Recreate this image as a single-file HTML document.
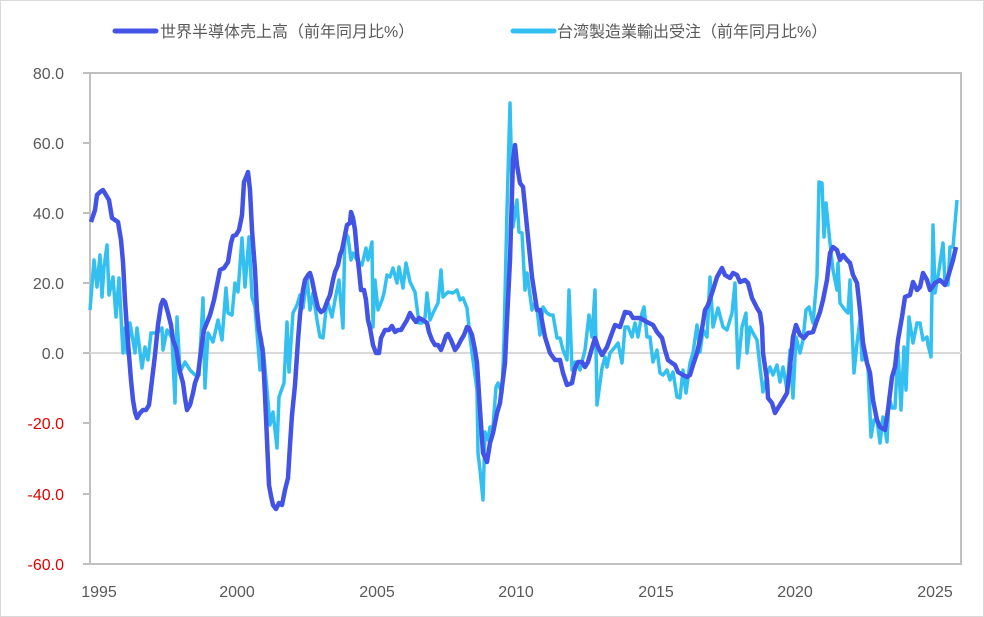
<!DOCTYPE html>
<html><head><meta charset="utf-8"><style>
html,body{margin:0;padding:0;background:#fff}
svg{display:block}
text{font-family:"Liberation Sans","Noto Sans CJK JP",sans-serif}
</style></head><body>
<svg width="984" height="617" viewBox="0 0 984 617" xmlns="http://www.w3.org/2000/svg">
<rect x="0.5" y="0.5" width="983" height="616" fill="#fff" stroke="#d9d9d9"/>
<g stroke="#bfbfbf" stroke-width="2" fill="none">
<rect x="90" y="73" width="871" height="491"/>
<line x1="83" y1="73" x2="90" y2="73"/><line x1="83" y1="143" x2="90" y2="143"/><line x1="83" y1="213" x2="90" y2="213"/><line x1="83" y1="283" x2="90" y2="283"/><line x1="83" y1="353" x2="90" y2="353"/><line x1="83" y1="423" x2="90" y2="423"/><line x1="83" y1="494" x2="90" y2="494"/><line x1="83" y1="564" x2="90" y2="564"/>
</g>
<line x1="90" y1="353" x2="961" y2="353" stroke="#d9d9d9" stroke-width="2"/>
<g font-size="16" fill="#595959" text-anchor="end">
<text x="64" y="79">80.0</text><text x="64" y="149">60.0</text><text x="64" y="219">40.0</text><text x="64" y="289">20.0</text><text x="64" y="359">0.0</text>
<text x="64" y="429" fill="#e00000">-20.0</text><text x="64" y="500" fill="#e00000">-40.0</text><text x="64" y="570" fill="#e00000">-60.0</text>
</g>
<g font-size="16" fill="#595959" text-anchor="middle">
<text x="99" y="597">1995</text><text x="237" y="597">2000</text><text x="377" y="597">2005</text><text x="516" y="597">2010</text><text x="656" y="597">2015</text><text x="795" y="597">2020</text><text x="935" y="597">2025</text>
</g>
<line x1="115" y1="31" x2="156" y2="31" stroke="#4353E5" stroke-width="5" stroke-linecap="round"/>
<text x="160" y="37" font-size="16" fill="#595959">世界半導体売上高（前年同月比%）</text>
<line x1="513" y1="31" x2="554" y2="31" stroke="#33C0F0" stroke-width="5" stroke-linecap="round"/>
<text x="557" y="37" font-size="16" fill="#595959">台湾製造業輸出受注（前年同月比%）</text>
<polyline fill="none" stroke="#33C0F0" stroke-width="3.5" stroke-linejoin="round" points="90,310 94,260 97,287 100,255 102,297 104,267 107,245 109,295 113,277 116,317 119,278 123,353 125,328 127,353 130,323 135,353 137,328 142,368 145,347 148,360 151,333 157,333 162,328 163,350 167,330 172,338 175,403 177,317 180,372 185,362 190,370 195,375 199,375 203,298 205,388 208,333 213,342 218,320 222,340 226,288 228,313 232,315 235,283 238,292 242,238 245,287 249,237 252,297 255,307 260,370 263,347 267,390 270,425 273,412 277,448 279,397 284,383 287,322 289,372 293,313 297,305 300,295 303,308 307,277 310,310 313,293 317,320 320,337 323,338 327,300 332,317 335,300 339,280 343,328 345,232 348,237 351,260 353,253 357,260 362,265 366,248 368,260 372,242 373,327 375,280 378,310 382,300 384,293 387,275 390,277 393,268 397,283 399,267 403,288 406,263 410,282 415,292 419,323 422,323 425,318 427,293 430,320 433,313 436,307 438,303 441,270 443,297 448,292 453,293 457,290 460,300 463,298 467,308 470,337 473,360 477,390 478,453 480,470 483,500 485,432 488,440 490,427 493,427 496,387 498,383 502,393 504,340 507,210 510,103 513,227 517,200 519,232 522,233 525,290 527,273 532,310 536,300 540,335 543,307 547,313 550,315 553,315 557,338 560,338 563,350 567,360 569,290 572,370 575,362 580,370 585,350 589,315 592,337 595,290 597,405 602,368 605,357 607,367 610,353 615,347 618,343 622,363 625,327 628,327 632,337 635,323 638,337 642,313 644,307 647,337 650,337 653,362 657,350 660,373 663,375 667,370 670,380 673,372 677,397 680,398 683,370 686,393 690,363 693,353 697,325 700,352 703,330 707,337 710,277 713,327 718,308 723,327 727,330 732,313 735,283 738,368 742,327 746,313 747,353 750,327 753,333 757,340 760,367 763,392 767,375 770,367 773,375 777,365 780,382 783,367 787,390 790,350 793,398 796,337 800,353 803,340 806,310 809,307 813,323 817,277 819,182 822,183 824,237 826,203 830,243 833,270 837,290 838,263 840,303 845,310 848,313 850,280 854,373 857,343 860,320 862,360 865,357 868,367 871,437 874,420 877,420 880,443 883,417 887,442 889,397 892,408 895,408 898,350 901,410 904,347 906,390 909,317 913,343 917,323 920,323 923,340 927,337 928,345 931,357 933,225 935,293 939,270 943,243 945,283 948,285 950,247 953,247 957,200"/>
<polyline fill="none" stroke="#4353E5" stroke-width="4.5" stroke-linejoin="round" points="91,222 95,210 97,195 100,192 103,190 106,195 109,200 112,218 115,220 118,222 121,240 123,262 125,300 127,330 129,355 131,380 133,400 135,412 137,418 140,413 143,410 146,410 149,405 152,380 155,355 158,325 161,305 163,300 165,302 168,313 171,325 173,340 176,348 178,360 180,372 183,383 185,398 187,410 190,405 193,393 195,383 198,375 201,350 204,330 206,325 210,315 214,300 216,290 220,270 224,268 228,262 231,243 233,236 236,235 239,230 242,215 244,182 247,175 248,172 250,190 252,230 255,270 257,310 259,330 261,340 263,355 265,395 267,440 269,485 271,496 273,505 276,509 279,503 282,505 285,490 288,478 290,445 292,415 295,385 298,340 300,315 303,290 305,280 308,275 310,273 312,280 315,295 318,308 321,312 324,310 327,302 330,295 333,280 335,272 338,265 340,255 342,250 344,240 347,225 350,223 351,212 353,218 355,230 357,253 359,270 361,290 364,290 366,300 368,320 370,328 373,345 376,353 379,353 381,338 385,330 389,330 392,326 395,332 398,330 401,330 404,325 407,320 410,313 413,318 416,322 419,318 423,320 427,323 429,332 432,340 435,345 438,345 441,350 444,342 446,336 448,334 451,340 453,345 455,350 458,346 461,340 464,335 467,327 469,328 472,335 475,350 477,363 480,410 483,453 487,462 490,443 493,433 497,413 500,403 505,363 507,320 510,260 513,160 515,145 517,165 520,183 523,187 527,227 532,277 537,310 540,310 545,337 550,353 555,360 560,360 563,373 567,385 572,383 575,368 578,362 582,362 585,367 588,362 592,348 595,338 598,347 602,355 607,347 612,333 615,325 620,327 625,312 630,313 633,318 640,318 647,322 653,325 657,332 662,338 665,350 668,360 672,363 675,365 678,372 683,375 687,377 690,375 693,365 697,353 700,340 703,323 705,310 708,305 713,290 717,277 722,268 725,275 730,278 733,273 737,275 740,282 745,280 748,283 752,298 757,308 760,313 762,327 763,353 767,380 768,398 772,403 775,413 778,408 783,400 787,393 790,367 793,337 796,325 800,335 804,338 808,333 813,332 816,323 820,312 823,300 827,280 830,253 833,247 837,250 840,260 843,255 847,260 850,263 853,275 857,283 860,310 863,343 867,363 870,373 873,400 877,420 880,427 885,430 888,410 892,377 895,367 898,340 902,317 905,297 910,295 913,282 917,290 920,287 923,273 927,280 930,290 935,283 940,280 945,285 948,277 953,260 956,247"/>
</svg>
</body></html>
